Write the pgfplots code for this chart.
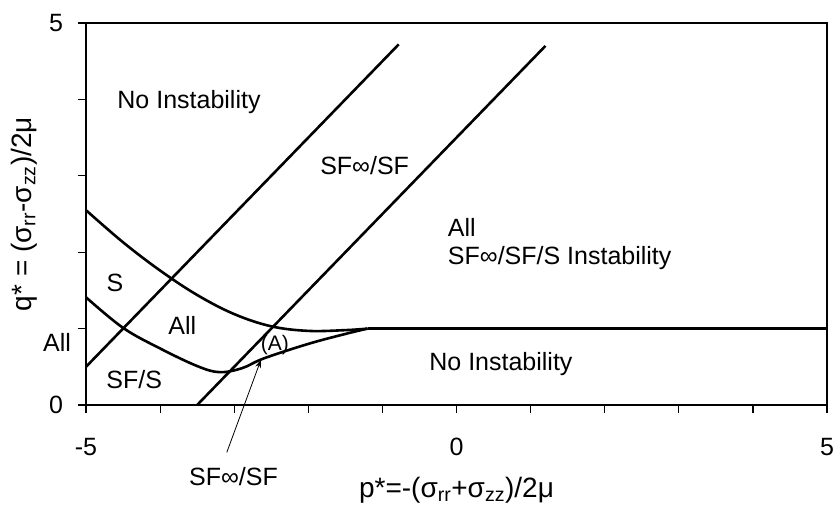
\documentclass[border=0pt]{standalone}
\usepackage{pgfplots}
\pgfplotsset{compat=1.18}
\usepackage{fontspec}
\setmainfont{Liberation Sans}
\usetikzlibrary{arrows.meta}
\begin{document}
\fontsize{25}{30}\selectfont
\begin{tikzpicture}
\begin{axis}[
  scale only axis, width=741pt, height=382pt,
  xmin=-5, xmax=5, ymin=0, ymax=5,
  axis line style={line width=1.5pt},
  xtick={-5,...,5}, xticklabels={},
  ytick={0,...,5}, yticklabels={},
  tick pos=left, tick align=outside, major tick length=8pt,
  tick style={line width=1.2pt, black},
  clip=false,
]
% diagonal lines
\addplot[no marks, black, line width=2.6pt] coordinates {(-5,0.5) (-0.78,4.72)};
\addplot[no marks, black, line width=2.6pt] coordinates {(-3.5,0) (1.2,4.7)};
% upper curve (S boundary)
\addplot[no marks, black, line width=2.6pt, smooth, tension=0.6] coordinates {(-5,2.55) (-4.5,2.13) (-4,1.76) (-3.5,1.44) (-3,1.19) (-2.5,1.03) (-2.0,0.97) (-1.5,0.98) (-1.2,1.0)};
\addplot[no marks, black, line width=2.6pt] coordinates {(-1.2,1.0) (5,1.0)};
% lower curve (SF/S boundary)
\addplot[no marks, black, line width=2.6pt, smooth, tension=0.6] coordinates {(-5,1.41) (-4.5,1.01) (-4,0.74) (-3.5,0.51) (-3.2,0.43) (-2.9,0.48) (-2.6,0.61) (-2.0,0.80) (-1.5,0.93) (-1.2,1.0)};
% tick labels
\node[yshift=-42pt] at (axis cs:-5,0) {-5};
\node[yshift=-42pt] at (axis cs:0,0) {0};
\node[yshift=-42pt] at (axis cs:5,0) {5};
\node[xshift=-30pt] at (axis cs:-5,0) {0};
\node[xshift=-30pt] at (axis cs:-5,5) {5};
% labels
\node at (axis cs:-3.61,3.97) {No Instability};
\node at (axis cs:-1.24,3.14) {SF∞/SF};
\node[anchor=west] at (axis cs:-0.23,2.33) {All};
\node[anchor=west] at (axis cs:-0.23,1.92) {SF∞/SF/S Instability};
\node at (axis cs:-4.61,1.60) {S};
\node at (axis cs:-3.70,1.04) {All};
\node at (axis cs:-4.35,0.33) {SF/S};
\node at (axis cs:-5.39,0.82) {All};
\node[font=\fontsize{21}{25}\selectfont] at (axis cs:-2.45,0.79) {(A)};
\node at (axis cs:0.60,0.54) {No Instability};
\node at (axis cs:-3.01,-0.94) {SF∞/SF};
\draw[line width=0.8pt, -{Stealth[length=8pt,width=6pt]}] (axis cs:-3.10,-0.62) -- (axis cs:-2.64,0.59);
\node[font=\fontsize{28}{33}\selectfont] at (axis description cs:0.5,-0.224) {p*=-(σ\textsubscript{rr}+σ\textsubscript{zz})/2μ};
\node[rotate=90, font=\fontsize{28}{33}\selectfont] at (axis description cs:-0.083,0.5) {q* = (σ\textsubscript{rr}-σ\textsubscript{zz})/2μ};
\coordinate (SW) at (rel axis cs:0,0);
\coordinate (NE) at (rel axis cs:1,1);
\end{axis}
\pgfresetboundingbox
\path ([shift={(-86pt,-109pt)}]SW) rectangle ([shift={(12pt,23pt)}]NE);
\end{tikzpicture}
\end{document}
